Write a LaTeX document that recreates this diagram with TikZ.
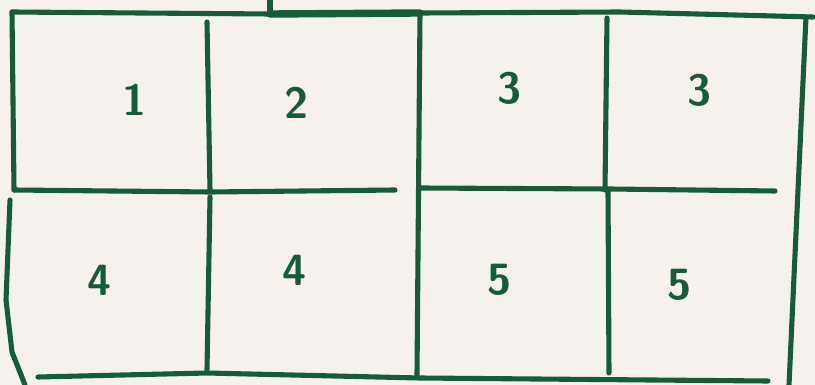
\documentclass[tikz,border=0pt]{standalone}
\usepackage{tikz}
\usetikzlibrary{positioning}
\definecolor{ink}{RGB}{22,92,56}
\definecolor{paper}{RGB}{246,241,236}
\tikzset{pen/.style={draw=ink, line width=2.9pt, line cap=round, line join=round},
    num/.style={text=ink, font=\sffamily\bfseries\Huge}}

\begin{document}
\begin{tikzpicture}[x=0.02cm, y=-0.02cm]
    \fill[paper] (0, 0) rectangle (815, 385);
    \useasboundingbox (0, 0) rectangle (815, 385);
        % top edge
        \draw[pen] (270, 0) -- (270, 13);
        \draw[pen] (12, 12) -- (270, 14) -- (420, 13) -- (620, 12) -- (813, 17);
        \draw[pen, line width=4.2pt] (270, 14) -- (420, 13);
        % top row
        \draw[pen] (12, 12) -- (14, 190);
        \draw[pen] (207, 22) -- (210, 190);
        \draw[pen] (420, 13) -- (417, 375);
        \draw[pen] (607, 18) -- (605, 190);
        \draw[pen] (806, 17) -- (798, 190) -- (789, 385);
        \draw[pen] (14, 190) -- (210, 192) -- (395, 190);
        \draw[pen] (420, 188) -- (610, 189) -- (775, 191);
        % bottom row
        \draw[pen] (10, 200) -- (6, 300) -- (12, 352) -- (25, 385);
        \draw[pen] (210, 197) -- (207, 370);
        \draw[pen] (608, 190) -- (609, 373);
        \draw[pen] (38, 377) -- (207, 373) -- (420, 378) -- (768, 381);

        \node[num] (n1) at (135, 100) {1};
        \node[num] (n2) at (297, 103) {2};
        \node[num] (n3) at (510, 88) {3};
        \node[num] (n3b) at (700, 90) {3};
        \node[num] (n4) at (100, 280) {4};
        \node[num] (n4b) at (295, 270) {4};
        \node[num] (n5) at (500, 280) {5};
        \node[num] (n5b) at (680, 285) {5};
    \end{tikzpicture}
\end{document}
